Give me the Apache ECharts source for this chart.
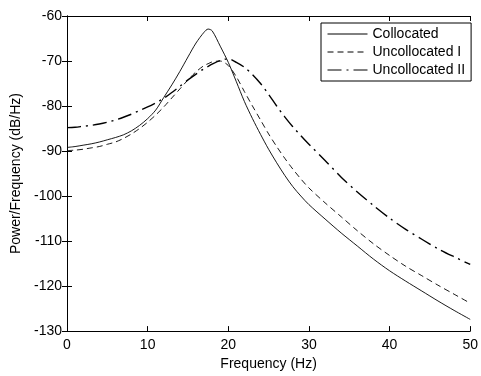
<!DOCTYPE html>
<html>
<head>
<meta charset="utf-8">
<script src="https://cdn.jsdelivr.net/npm/echarts@6/dist/echarts.min.js"></script>
<style>html,body{margin:0;padding:0;background:#fff;}#c{width:481px;height:376px;}</style>
</head>
<body>
<div id="c"></div>
<script>
const freq = [0,1,2,3,4,5,6,7,8,9,10,11,12,13,14,15,16,17,17.5,18,19,20,21,22,23,24,25,26,27,28,29,30,32,34,36,38,40,42,44,46,48,50];
const collocated = [-89.2,-89.0,-88.7,-88.4,-88.0,-87.5,-87.0,-86.4,-85.5,-84.3,-82.8,-80.9,-78.1,-75.3,-72.3,-69.1,-66.0,-63.6,-62.9,-63.3,-66.7,-70.3,-74.6,-79.0,-82.8,-86.3,-89.6,-92.6,-95.4,-97.9,-100.0,-101.9,-105.1,-108.2,-111.1,-114.0,-116.6,-118.9,-121.1,-123.3,-125.4,-127.4];
const uncollocated1 = [-89.9,-89.8,-89.6,-89.3,-89.0,-88.5,-88.0,-87.2,-86.2,-85.0,-83.6,-82.0,-80.2,-78.2,-76.2,-74.2,-72.4,-71.0,-70.6,-70.2,-70.0,-71.0,-73.5,-76.8,-80.0,-83.1,-86.2,-89.0,-91.6,-94.0,-96.2,-98.2,-101.5,-104.6,-107.7,-110.6,-113.2,-115.6,-117.7,-119.8,-121.8,-123.8];
const uncollocated2 = [-84.8,-84.7,-84.5,-84.3,-84.0,-83.6,-83.1,-82.5,-81.8,-81.0,-80.2,-79.3,-78.3,-77.0,-75.6,-74.2,-72.9,-71.7,-71.2,-70.7,-69.9,-69.5,-70.3,-71.4,-73.0,-75.0,-77.4,-80.0,-82.4,-84.6,-86.6,-88.5,-92.1,-95.8,-99.1,-102.1,-104.9,-107.4,-109.6,-111.7,-113.5,-115.2];
const seriesNames = ['Collocated','Uncollocated I','Uncollocated II'];
const xTicks = {min:0, max:50, interval:10};
const yTicks = {min:-130, max:-60, interval:10};

const font = 'Liberation Sans, Arial, Helvetica, sans-serif';
const fs = 14;
const pair = v => freq.map((f,i)=>[f,v[i]]);
const chart = echarts.init(document.getElementById('c'), null, {renderer:'canvas'});
const axisCommon = {
  axisLine:{show:true, lineStyle:{color:'#000', width:1}},
  axisTick:{show:true, inside:true, length:5, lineStyle:{color:'#000'}},
  splitLine:{show:false}
};
chart.setOption({
  animation:false,
  backgroundColor:'#fff',
  grid:{left:67, right:8, top:16, bottom:39, containLabel:false},
  xAxis:[
    Object.assign({type:'value', position:'bottom', min:xTicks.min, max:xTicks.max, interval:xTicks.interval,
      name:'Frequency (Hz)', nameLocation:'middle', nameGap:24,
      nameTextStyle:{color:'#000', fontSize:fs, fontFamily:font},
      axisLabel:{color:'#000', fontSize:fs, fontFamily:font, margin:7}}, axisCommon),
    Object.assign({type:'value', position:'top', min:xTicks.min, max:xTicks.max, interval:xTicks.interval,
      axisLabel:{show:false}}, axisCommon)
  ],
  yAxis:[
    Object.assign({type:'value', position:'left', min:yTicks.min, max:yTicks.max, interval:yTicks.interval,
      name:'Power/Frequency (dB/Hz)', nameLocation:'middle', nameGap:41,
      nameTextStyle:{color:'#000', fontSize:fs, fontFamily:font},
      axisLabel:{color:'#000', fontSize:fs, fontFamily:font, margin:5}}, axisCommon),
    Object.assign({type:'value', position:'right', min:yTicks.min, max:yTicks.max, interval:yTicks.interval,
      axisLabel:{show:false}}, axisCommon)
  ],
  legend:{
    left:321, top:23, orient:'vertical', itemWidth:40, itemHeight:14, itemGap:4,
    padding:[4,6,4,6], borderColor:'#000', borderWidth:1, backgroundColor:'#fff',
    itemStyle:{opacity:0},
    lineStyle:{width:1},
    textStyle:{color:'#000', fontSize:fs, fontFamily:font},
    data:seriesNames
  },
  series:[
    {name:seriesNames[0], type:'line', data:pair(collocated), smooth:0.3, showSymbol:false, symbol:'none',
      lineStyle:{color:'#000', width:0.9, type:'solid'}, itemStyle:{color:'#000'}},
    {name:seriesNames[1], type:'line', data:pair(uncollocated1), smooth:0.3, showSymbol:false, symbol:'none',
      lineStyle:{color:'#000', width:0.9, type:[6,4]}, itemStyle:{color:'#000'}},
    {name:seriesNames[2], type:'line', data:pair(uncollocated2), smooth:0.3, showSymbol:false, symbol:'none',
      lineStyle:{color:'#000', width:1.4, type:[14,5,2,5]}, itemStyle:{color:'#000'}}
  ]
});
</script>
</body>
</html>
